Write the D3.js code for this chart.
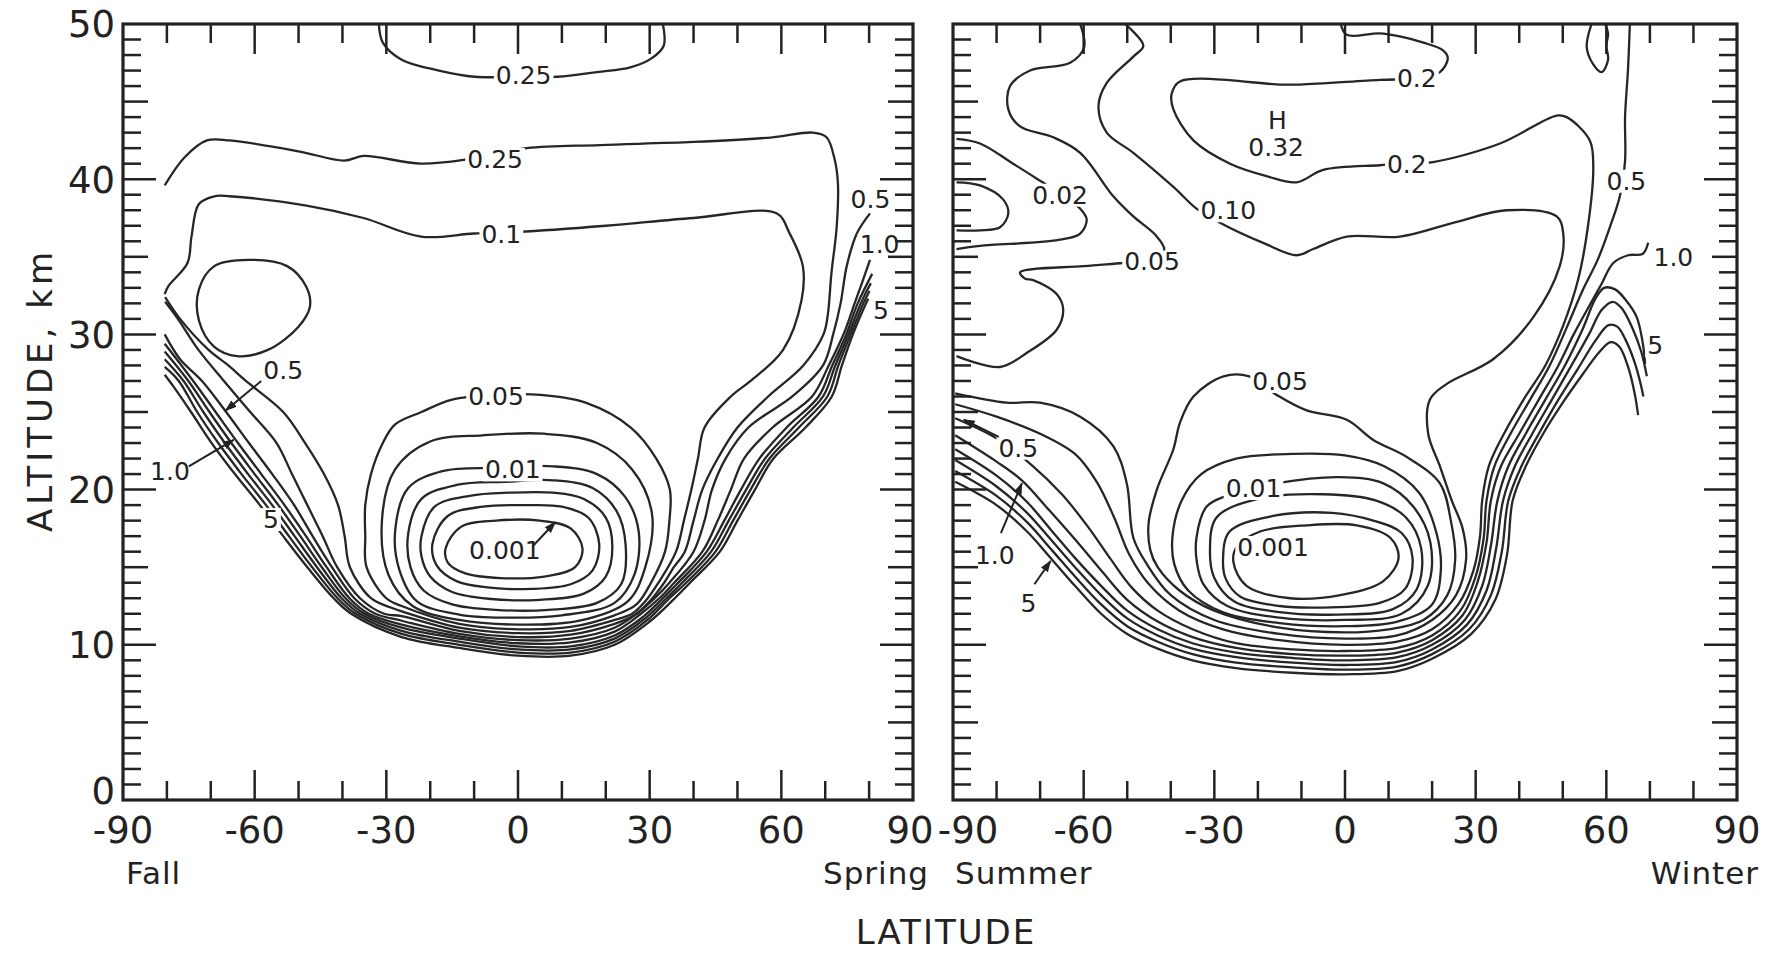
<!DOCTYPE html>
<html>
<head>
<meta charset="utf-8">
<script src="https://cdn.jsdelivr.net/npm/d3@7"></script>
<style>
body { margin: 0; background: #fff; }
text { font-family: "DejaVu Sans", sans-serif; fill: #222; }
</style>
</head>
<body>
<script>
// axis values
var latTicks = [-90, -60, -30, 0, 30, 60, 90];
var altTicks = [0, 10, 20, 30, 40, 50];
var fallSeasons = ["Fall", "Spring"];
var summerSeasons = ["Summer", "Winter"];

// left panel : contour lines as [latitude, altitude km]
var fallContours = [
  {level: "0.25", pts: [[-31.7,50],[-30.8,48.8],[-26.5,47.7],[-18,47.0],[-9.9,46.6],[0,46.6],[9,46.6],[18,46.9],[25.6,47.2],[30.5,47.8],[33.2,48.6],[33,50]]},
  {level: "0.25", pts: [[-80.5,39.6],[-76,41.4],[-70.9,42.5],[-65.7,42.5],[-50,41.8],[-39.6,41.2],[-35.2,41.5],[-22.1,41.0],[-11,41.3],[2,42.0],[18.7,42.2],[40,42.4],[58,42.7],[67.2,43.0],[70.3,42.7],[72.2,41.2],[72.9,39.7],[72.6,36.9],[71.4,33.9],[70.6,31.3],[69.6,30],[65,28],[57,26],[50,24],[45.5,22],[42,20],[40,18],[38,16],[35.5,15],[33.3,14],[30,12.8],[26.5,11.9],[22,11.35],[12,10.65],[0,10.5],[-13.4,10.9],[-26.5,11.85],[-30.5,12],[-36,13],[-41.2,15],[-44.5,17],[-48,19],[-51.5,21],[-55,23],[-61,25],[-67,27],[-72.8,29],[-77.5,31],[-80.4,32.1]]},
  {level: "0.1", pts: [[-80.5,32.6],[-79.7,33.1],[-75.3,34.6],[-74.4,36.3],[-72.7,38.4],[-69.2,38.9],[-65.7,38.9],[-48.2,38.3],[-35.2,37.5],[-22.1,36.3],[-10,36.5],[0,36.6],[20,37],[40,37.5],[58.9,37.8],[61.9,36.5],[64.9,34.4],[64.6,32.2],[60.4,29.0],[53,27],[48.5,26],[42.5,24],[41,22],[39.5,20],[37.8,18],[36,16],[32,14],[29,12.8],[26,12],[22,11.6],[12,10.9],[0,10.75],[-13.4,11.1],[-26.5,12.15],[-29,12.4],[-33.5,13],[-38.3,15],[-39.5,17],[-41,19],[-44.2,21],[-48.5,23],[-53.5,25],[-62,27],[-66,28],[-70.5,29],[-77,31],[-80.4,32.4]]},
  {level: "0.5", pts: [[-80.5,30.0],[-77,28.4],[-72,27],[-66.5,25],[-61.3,23],[-56,21],[-51,19],[-46.8,17],[-42.4,15],[-37.3,13],[-32.5,12],[-26.5,11.55],[-13.4,10.7],[0,10.3],[12,10.4],[22,11.1],[27.5,12.1],[31.5,13.1],[34.5,14],[40,16],[42.5,18],[44.2,20],[47.3,22],[52.5,24],[62.5,26],[69.5,28],[71.9,30.1],[73.5,32],[74.9,34.4],[77.2,36.5],[80.2,37.8]]},
  {level: "1.0", pts: [[-80.5,29.4],[-74,27],[-68.9,25],[-63.8,23],[-58.5,21],[-53.2,19],[-48.3,17],[-43.6,15],[-38.4,13],[-34,12],[-26.5,11.3],[-13.4,10.55],[0,10.1],[12,10.15],[22,10.85],[28,12],[32.2,13],[35.6,14],[42,16],[45.5,18],[48.5,20],[51.5,22],[58,24],[67,26],[70.8,28],[74.3,30.1],[76.7,32],[78.1,33.1],[80.2,34.8]]},
  {level: "2", pts: [[-80.5,28.9],[-75.1,27],[-70.3,25],[-65.3,23],[-60,21],[-54.6,19],[-49.6,17],[-44.7,15],[-39.3,13],[-35,12],[-26.5,11.1],[-13.4,10.4],[0,9.9],[12,9.9],[22,10.6],[28.5,11.8],[33,13],[36.5,14],[43,16],[47,18],[50.8,20],[55,22],[61.2,24],[68.5,26],[71.6,28],[74.8,30],[77.4,32],[80.7,33.9]]},
  {level: "3", pts: [[-80.5,28.4],[-76.2,27],[-71.7,25],[-66.8,23],[-61.5,21],[-56,19],[-50.9,17],[-45.8,15],[-40.2,13],[-36,12],[-26.5,10.9],[-13.4,10.2],[0,9.7],[12,9.7],[22,10.4],[29,11.7],[33.8,13],[37.4,14],[44,16],[48,18],[52,20],[56.3,22],[62.7,24],[69.5,26],[72.3,28],[75.3,30],[78.1,32],[80.4,33.3]]},
  {level: "4", pts: [[-80.5,27.9],[-77.3,27],[-73.1,25],[-68.3,23],[-63,21],[-57.4,19],[-52.2,17],[-46.9,15],[-41.1,13],[-37,12],[-26.5,10.7],[-13.4,10.0],[0,9.5],[12,9.5],[22,10.2],[29.5,11.6],[34.5,13],[38.3,14],[45,16],[49,18],[53,20],[57.3,22],[64,24],[70.5,26],[73,28],[75.8,30],[78.7,32],[80.1,32.8]]},
  {level: "5", pts: [[-80.5,27.4],[-78.4,26.6],[-74.5,25],[-69.8,23],[-64.5,21],[-58.8,19],[-53.5,17],[-48,15],[-42,13],[-38,12],[-26.5,10.5],[-13.4,9.8],[0,9.3],[12,9.3],[22,10.0],[30,11.5],[35,12.8],[39.2,14],[46,16],[50,18],[54,20],[58.2,22],[65.5,24],[71.5,26],[73.8,28],[76.3,30],[79.3,32],[79.8,32.3]]},
  {level: "0.05", closed: true, pts: [[-5,26.1],[-15,25.8],[-22,25],[-28,24.2],[-30.8,23],[-33.5,21],[-34.8,19],[-34.8,17],[-34.5,15],[-30,13],[-26.5,12.5],[-13.4,11.35],[0,11.0],[12,11.15],[22,11.9],[27,12.6],[30.3,14],[33.5,16],[34.5,18],[34.6,20],[31.5,22],[25.7,24],[15.4,25.6],[5.2,26.1]]},
  {level: "0.02", closed: true, pts: [[-31,18],[-28,21.3],[-20,23.1],[-8,23.5],[6,23.6],[18,23.0],[26,21.3],[30.5,18.5],[29,15],[25,12.8],[14,11.55],[0,11.3],[-13.4,11.6],[-24,12.5],[-29.5,14.5]]},
  {level: "0.01", closed: true, pts: [[-28,17.3],[-25,20.1],[-17,21.2],[-5,21.4],[8,21.5],[18,21.0],[24.5,19.5],[27.5,17.3],[26.5,14.5],[22,12.7],[10,11.9],[-3,11.75],[-13.4,11.95],[-23,12.8],[-27,14.8]]},
  {level: "0.005", closed: true, pts: [[-25,17.2],[-22,19.4],[-14,20.3],[-3,20.5],[8,20.6],[17,20.1],[22.5,18.6],[24.5,16.5],[23.5,13.9],[18,12.7],[7,12.25],[-5,12.25],[-15,12.6],[-21.5,13.5],[-24.5,15]]},
  {level: "0.003", closed: true, pts: [[-22,17],[-19,18.9],[-11,19.6],[-2,19.8],[8,19.8],[15,19.4],[20,18.2],[21.5,16.3],[20,14.4],[15,13.3],[5,12.9],[-6,12.95],[-15,13.4],[-20,14.4],[-22,15.7]]},
  {level: "0.002", closed: true, pts: [[-19.5,16.5],[-16,18.3],[-8,18.9],[2,19.0],[10,18.9],[16,18.2],[18.5,16.5],[17,14.8],[12,13.9],[3,13.6],[-7,13.7],[-14,14.1],[-18.5,15.1]]},
  {level: "0.001", closed: true, pts: [[-16.5,16.2],[-13,17.6],[-5,18.0],[5,18.0],[12,17.5],[14.7,16.2],[13,15.0],[6,14.4],[-4,14.3],[-12,14.6],[-16,15.3]]},
  {level: "0.05", closed: true, pts: [[-72.7,32.9],[-69.2,34.4],[-61.4,34.8],[-52.6,34.4],[-48.3,33.1],[-47.4,31.8],[-50,30.5],[-57,29.0],[-64,28.6],[-69.2,29.2],[-72.7,30.9]]}
];

var fallLabels = [
  {text: "0.25", lat: 1.3, alt: 46.7},
  {text: "0.25", lat: -5.2, alt: 41.3},
  {text: "0.1", lat: -3.8, alt: 36.5},
  {text: "0.05", lat: -5, alt: 26.0},
  {text: "0.01", lat: -1.2, alt: 21.3},
  {text: "0.001", lat: -3, alt: 16.1},
  {text: "0.5", lat: 80.3, alt: 38.7},
  {text: "1.0", lat: 82.4, alt: 35.8},
  {text: "5", lat: 82.7, alt: 31.6},
  {text: "0.5", lat: -53.5, alt: 27.7},
  {text: "1.0", lat: -79.3, alt: 21.2},
  {text: "5", lat: -56.3, alt: 18.1}
];

var fallArrows = [
  {from: [-58.5, 27.0], to: [-66.6, 25.1]},
  {from: [-75.0, 21.5], to: [-64.8, 23.2]},
  {from: [3.5, 16.4], to: [8.5, 17.9]}
];

// right panel
var summerContours = [
  {level: "0.2", pts: [[-1,50],[0.4,49.3],[8,49.4],[12.6,49.2],[18,48.8],[22.5,48.3],[23.6,47.8],[21.8,46.9],[16.5,46.5],[8,46.4],[-10.3,46.1],[-14.9,46.1],[-37.9,46.3],[-39.8,45.5],[-39.4,44.5],[-34.8,42.5],[-26.4,41.0],[-18,40.2],[-11.1,39.8],[-5,40.6],[8,40.9],[14.2,41.0],[20.2,41.1],[35.6,42.3],[48.6,44.1],[50.9,44],[56.2,42.5],[57,40.8],[55.8,37],[53.5,33.5],[50,30.5],[46,28],[41,25.8],[36.5,23.6],[33,21.5],[31.5,19.3],[31,17],[29.5,14.8],[26,12.6],[20,11.0],[12,10.2],[0,10.0],[-15,10.3],[-28,11.0],[-38,12.2],[-45,13.9],[-49.5,15.8],[-53,18.2],[-57,20.5],[-62,22.3],[-70,23.6],[-80,24.7],[-89.5,25.5]]},
  {level: "0.10", pts: [[-50.5,50],[-46.3,48.6],[-48.6,47.9],[-54.7,46.2],[-56.6,44.7],[-54.7,43.0],[-48.6,41.7],[-39.4,39.5],[-34.1,38.1],[-31,37.6],[-28.7,37.2],[-18.8,35.9],[-11.1,35.1],[-7.3,35.5],[0.4,36.3],[12.6,36.3],[25,37.2],[37.1,38.0],[48.6,37.6],[50.1,36.5],[49.3,34.4],[43.2,31.1],[34,28.4],[23.3,26.8],[19.5,25.8],[19.1,23.6],[21.8,21.5],[24.5,19.3],[27,17.5],[27.8,15.5],[25.5,13.2],[20,11.6],[12,10.6],[0,10.4],[-15,10.7],[-30,11.6],[-40,13.2],[-45.5,15.2],[-48.6,16.9],[-50.1,20.4],[-53.2,22.8],[-60.8,24.7],[-70,25.6],[-77.7,25.6],[-89.5,26.2]]},
  {level: "0.5", pts: [[-89.5,24.6],[-80,23.3],[-72,21.6],[-65,19.7],[-59,17.6],[-54,15.6],[-49,13.7],[-43,12.2],[-35,11.0],[-25,10.1],[-12,9.7],[0,9.6],[12,9.8],[20,10.6],[26.5,12.2],[30,14.4],[31.8,16.8],[32.5,19.3],[34.3,21.5],[38,23.6],[42.5,25.8],[47,28],[51,30.5],[54.5,32.8],[58,34.8],[60.8,36.9],[63.1,38.9],[64.3,41.2],[64.3,44],[65,47.2],[65.4,50]]},
  {level: "1.0", pts: [[-89.5,23.5],[-80,21.8],[-74.2,20.6],[-68,18.7],[-62,16.8],[-56,14.8],[-50,12.9],[-43,11.5],[-35,10.5],[-25,9.8],[-12,9.4],[0,9.3],[12,9.5],[20,10.3],[27,11.9],[30.5,14.1],[32.5,16.6],[33.5,19.3],[35.8,21.5],[40,23.6],[44.5,25.8],[49,28],[52.5,30],[56,31.8],[58.8,33.2],[61.6,34.6],[65,35.1],[68.4,35.2],[69.6,35.9]]},
  {level: "2", pts: [[-89.5,22.6],[-80,20.9],[-73,19.2],[-67.5,17.4],[-62,15.6],[-56,13.8],[-50,12.2],[-43,11.0],[-35,10.1],[-25,9.5],[-12,9.15],[0,9.0],[12,9.2],[20,10.0],[27.5,11.6],[31.5,13.8],[33.5,16.4],[35,19.3],[37.5,21.5],[41.5,23.6],[46,25.8],[50.5,28],[54.5,30.3],[57.5,32.3],[59.5,33.0],[62,32.9],[64.5,32.2],[67,31.1],[68.5,29.2],[68.9,28.1]]},
  {level: "3", pts: [[-89.5,21.9],[-80,20.2],[-73,18.5],[-67.3,16.7],[-62,15.0],[-56,13.2],[-50,11.7],[-43,10.6],[-35,9.75],[-25,9.2],[-12,8.85],[0,8.7],[12,8.9],[20,9.7],[28,11.3],[32.5,13.5],[34.7,16.2],[36.3,19.3],[39,21.5],[43,23.6],[47.5,25.8],[52,28],[56,30],[59,31.6],[61.5,32.1],[63.5,31.7],[66,30.4],[68,28.9],[69.3,27.3]]},
  {level: "4", pts: [[-89.5,21.2],[-80,19.6],[-73,17.9],[-67.3,16.1],[-62,14.4],[-56,12.6],[-50,11.2],[-43,10.2],[-35,9.4],[-25,8.85],[-12,8.55],[0,8.4],[12,8.6],[20,9.4],[28.5,11.0],[33.5,13.2],[36,16.0],[37.5,19.3],[40.5,21.5],[44.5,23.6],[49,25.8],[53.5,27.8],[57.5,29.6],[60.5,30.6],[62.5,30.5],[64.5,29.6],[66.5,28.2],[67.8,26.9],[68.5,26.0]]},
  {level: "5", pts: [[-89.5,20.5],[-80,19.0],[-73,17.3],[-67.3,15.5],[-62,13.8],[-56,12.0],[-50,10.7],[-43,9.75],[-35,9.0],[-25,8.5],[-12,8.2],[0,8.1],[12,8.3],[20,9.1],[29,10.7],[34.5,12.9],[37.2,15.8],[38.5,19.3],[41.5,21.5],[45.5,23.6],[50,25.6],[54.5,27.4],[58.5,28.9],[61,29.5],[63,29.2],[65,27.9],[66.5,26.2],[67.3,24.8]]},
  {level: "0.05", closed: true, pts: [[-15.7,26.1],[-8.8,25.1],[0.4,24.5],[6.5,23.2],[14.2,22.1],[21.8,20.4],[24.3,18],[25.3,15.5],[23.5,13.2],[18,11.6],[10,11.0],[0,10.8],[-15,11.1],[-30,12.2],[-38,13.5],[-43,15.0],[-44.7,16.1],[-45.1,17.8],[-43.2,20.0],[-39.4,22.6],[-37.9,24.3],[-34.8,26.0],[-27.9,27.3],[-22,27.3]]},
  {level: "0.02", closed: true, pts: [[-39.6,17],[-37.5,19.3],[-33,21.0],[-25,22.0],[-12,22.3],[0,22.2],[9,21.5],[17,19.8],[21,17.2],[22,14.8],[20,12.6],[12,11.5],[0,11.2],[-15,11.4],[-28,12.1],[-36,13.5],[-39.2,15.2]]},
  {level: "0.01", closed: true, pts: [[-34.1,16.9],[-31.8,18.9],[-27.2,19.6],[-15.7,20.4],[-1.1,20.8],[8.8,20.4],[15.7,18.9],[19.6,16.6],[19,13.8],[13,12.0],[0,11.6],[-15,11.75],[-27,12.5],[-32.5,13.9],[-34,15.3]]},
  {level: "0.005", closed: true, pts: [[-31,16],[-29.5,18.2],[-20,19.4],[-5,19.7],[7,19.3],[14,18.2],[17.5,16.2],[16.5,13.6],[11,12.3],[-2,11.95],[-15,12.1],[-25.5,12.8],[-30,14.3]]},
  {level: "0.002", closed: true, pts: [[-28,15.5],[-26.5,17.3],[-16.5,18.3],[-3,18.5],[6.5,18.0],[13,17.2],[15.5,15.6],[13.8,13.6],[8,12.7],[-5,12.4],[-15,12.5],[-24,13.1],[-27.3,14.2]]},
  {level: "0.001", closed: true, pts: [[-25.6,15.3],[-22.6,13.8],[-12.6,13.0],[-1.1,13.2],[8.8,14.1],[12.3,15.6],[10.4,16.9],[2.7,17.7],[-8.8,17.7],[-19.5,17.3],[-24.9,16.3]]},
  {level: "0.05", pts: [[-60.8,50],[-59.9,48.5],[-63.1,47.5],[-72.3,47.0],[-76.9,46.0],[-77.3,44.5],[-74.6,43.4],[-67,42.7],[-60.8,41.7],[-53.2,38.9],[-48.6,37.6],[-43.5,36.4],[-41.5,35.5],[-43,34.8],[-50.9,34.6],[-60,34.4],[-74.6,34.0],[-73.5,33.6],[-71.6,33.5],[-66.2,32.6],[-64.7,31.6],[-66.2,30.3],[-73.1,28.8],[-79.2,27.9],[-89.2,28.6]]},
  {level: "0.02", pts: [[-89.2,42.6],[-83.8,42.3],[-76.2,41.0],[-70,39.9],[-65,39.0],[-60.8,38.1],[-59.3,37.4],[-60.8,36.5],[-65.4,36.1],[-83.8,35.7],[-89.2,35.5]]},
  {level: "0.01", pts: [[-89.2,39.8],[-83.8,39.6],[-78.5,38.7],[-77.3,37.8],[-79.2,36.9],[-83.8,36.7],[-89.2,36.7]]},
  {level: "0.5", pts: [[56.6,50],[55.5,48.5],[57.0,47.4],[58.9,46.9],[60.4,47.7],[60,48.6],[60.4,49.4],[59.7,50]]}
];

var summerLabels = [
  {text: "0.2", lat: 16.5, alt: 46.5},
  {text: "H", lat: -15.5, alt: 43.8},
  {text: "0.32", lat: -15.8, alt: 42.1},
  {text: "0.2", lat: 14.2, alt: 41.0},
  {text: "0.02", lat: -65.4, alt: 39.0},
  {text: "0.10", lat: -26.8, alt: 38.0},
  {text: "0.05", lat: -44.3, alt: 34.7},
  {text: "0.5", lat: 64.6, alt: 39.9},
  {text: "1.0", lat: 75.4, alt: 35.0},
  {text: "5", lat: 71.2, alt: 29.3},
  {text: "0.05", lat: -14.9, alt: 27.0},
  {text: "0.01", lat: -21, alt: 20.1},
  {text: "0.001", lat: -16.5, alt: 16.3},
  {text: "0.5", lat: -75, alt: 22.7},
  {text: "1.0", lat: -80.4, alt: 15.8},
  {text: "5", lat: -72.7, alt: 12.7}
];

var summerArrows = [
  {from: [-79.5, 23.4], to: [-87.5, 24.5]},
  {from: [-79.0, 17.2], to: [-74.2, 20.4]},
  {from: [-71.3, 13.9], to: [-67.6, 15.4]}
];

var W = 1766, H = 954;
var svg = d3.select("body").append("svg")
  .attr("width", W)
  .attr("height", H);

svg.append("rect").attr("width", W).attr("height", H).attr("fill", "#fff");

var defs = svg.append("defs");
defs.append("marker")
  .attr("id", "arr")
  .attr("viewBox", "0 0 10 10")
  .attr("refX", 9).attr("refY", 5)
  .attr("markerWidth", 6).attr("markerHeight", 6)
  .attr("orient", "auto")
  .append("path").attr("d", "M0,1.5 L10,5 L0,8.5 z").attr("fill", "#222");

var y = d3.scaleLinear().domain([0, 50]).range([800, 24]);

var panels = [
  {id: "fall", x0: 123, x1: 913, contours: fallContours, labels: fallLabels, arrows: fallArrows,
   seasons: fallSeasons, seasonX: [126, 929], yLabels: true, edgeDx: {"-90": 0, "90": -3}},
  {id: "summer", x0: 953, x1: 1737, contours: summerContours, labels: summerLabels, arrows: summerArrows,
   seasons: summerSeasons, seasonX: [955, 1759], yLabels: false, edgeDx: {"-90": 15, "90": 0}}
];

panels.forEach(function(p) {
  var x = d3.scaleLinear().domain([-90, 90]).range([p.x0, p.x1]);
  var g = svg.append("g");

  defs.append("clipPath").attr("id", "clip-" + p.id)
    .append("rect")
    .attr("x", p.x0).attr("y", y(50))
    .attr("width", p.x1 - p.x0).attr("height", y(0) - y(50));

  var lineOpen = d3.line()
    .x(function(d) { return x(d[0]); })
    .y(function(d) { return y(d[1]); })
    .curve(d3.curveCatmullRom.alpha(0.5));
  var lineClosed = d3.line()
    .x(function(d) { return x(d[0]); })
    .y(function(d) { return y(d[1]); })
    .curve(d3.curveCatmullRomClosed.alpha(0.5));

  var cg = g.append("g").attr("clip-path", "url(#clip-" + p.id + ")");
  cg.selectAll("path.contour")
    .data(p.contours)
    .enter()
    .append("path")
    .attr("class", "contour")
    .attr("d", function(d) { return d.closed ? lineClosed(d.pts) : lineOpen(d.pts); })
    .attr("fill", "none")
    .attr("stroke", "#262626")
    .attr("stroke-width", 2.3)
    .attr("stroke-linejoin", "round");

  // labels sit on the lines: a white box behind each one breaks the line
  var lab = cg.selectAll("g.clabel")
    .data(p.labels)
    .enter()
    .append("g")
    .attr("class", "clabel");
  lab.each(function(d) {
    var gg = d3.select(this);
    var bg = gg.append("rect").attr("fill", "#fff");
    var t = gg.append("text")
      .attr("x", x(d.lat))
      .attr("y", y(d.alt))
      .attr("dy", "0.36em")
      .attr("text-anchor", "middle")
      .attr("font-size", 25)
      .text(d.text);
    var b = t.node().getBBox();
    bg.attr("x", b.x - 2).attr("y", b.y + 3)
      .attr("width", b.width + 4).attr("height", b.height - 6);
  });

  cg.selectAll("line.arrow")
    .data(p.arrows)
    .enter()
    .append("line")
    .attr("class", "arrow")
    .attr("x1", function(d) { return x(d.from[0]); })
    .attr("y1", function(d) { return y(d.from[1]); })
    .attr("x2", function(d) { return x(d.to[0]); })
    .attr("y2", function(d) { return y(d.to[1]); })
    .attr("stroke", "#222")
    .attr("stroke-width", 2)
    .attr("marker-end", "url(#arr)");

  // latitude ticks, bottom and top, pointing inward
  d3.range(-80, 90, 10).forEach(function(t) {
    var len = (t % 30 === 0) ? 30 : 19;
    g.append("line").attr("x1", x(t)).attr("x2", x(t))
      .attr("y1", y(0)).attr("y2", y(0) - len)
      .attr("stroke", "#222").attr("stroke-width", 2.5);
    g.append("line").attr("x1", x(t)).attr("x2", x(t))
      .attr("y1", y(50)).attr("y2", y(50) + len)
      .attr("stroke", "#222").attr("stroke-width", 2.5);
  });

  // altitude ticks, every km, both sides
  d3.range(1, 50).forEach(function(k) {
    var len = (k % 10 === 0) ? 33 : (k % 5 === 0 ? 25 : 18);
    g.append("line").attr("x1", p.x0).attr("x2", p.x0 + len)
      .attr("y1", y(k)).attr("y2", y(k))
      .attr("stroke", "#222").attr("stroke-width", 2.5);
    g.append("line").attr("x1", p.x1).attr("x2", p.x1 - len)
      .attr("y1", y(k)).attr("y2", y(k))
      .attr("stroke", "#222").attr("stroke-width", 2.5);
  });

  g.append("rect")
    .attr("x", p.x0).attr("y", y(50))
    .attr("width", p.x1 - p.x0).attr("height", y(0) - y(50))
    .attr("fill", "none")
    .attr("stroke", "#222")
    .attr("stroke-width", 3.2);

  g.selectAll("text.xlab")
    .data(latTicks)
    .enter()
    .append("text")
    .attr("class", "xlab")
    .attr("x", function(d) { return x(d) + (p.edgeDx[String(d)] || 0); })
    .attr("y", 843)
    .attr("text-anchor", "middle")
    .attr("font-size", 37)
    .text(function(d) { return d; });

  g.append("text").attr("x", p.seasonX[0]).attr("y", 884)
    .attr("font-size", 31).attr("letter-spacing", 1)
    .text(p.seasons[0]);
  g.append("text").attr("x", p.seasonX[1]).attr("y", 884)
    .attr("text-anchor", "end")
    .attr("font-size", 31).attr("letter-spacing", 1)
    .text(p.seasons[1]);

  if (p.yLabels) {
    g.selectAll("text.ylab")
      .data(altTicks)
      .enter()
      .append("text")
      .attr("class", "ylab")
      .attr("x", p.x0 - 8)
      .attr("y", function(d) { return d === 0 ? y(d) - 9 : y(d); })
      .attr("dy", "0.36em")
      .attr("text-anchor", "end")
      .attr("font-size", 37)
      .text(function(d) { return d; });
  }
});

svg.append("text")
  .attr("transform", "translate(40,390) rotate(-90)")
  .attr("text-anchor", "middle")
  .attr("dy", "0.36em")
  .attr("font-size", 34)
  .attr("letter-spacing", 4)
  .text("ALTITUDE, km");

svg.append("text")
  .attr("x", 946).attr("y", 944)
  .attr("text-anchor", "middle")
  .attr("font-size", 34)
  .attr("letter-spacing", 2)
  .text("LATITUDE");
</script>
</body>
</html>
